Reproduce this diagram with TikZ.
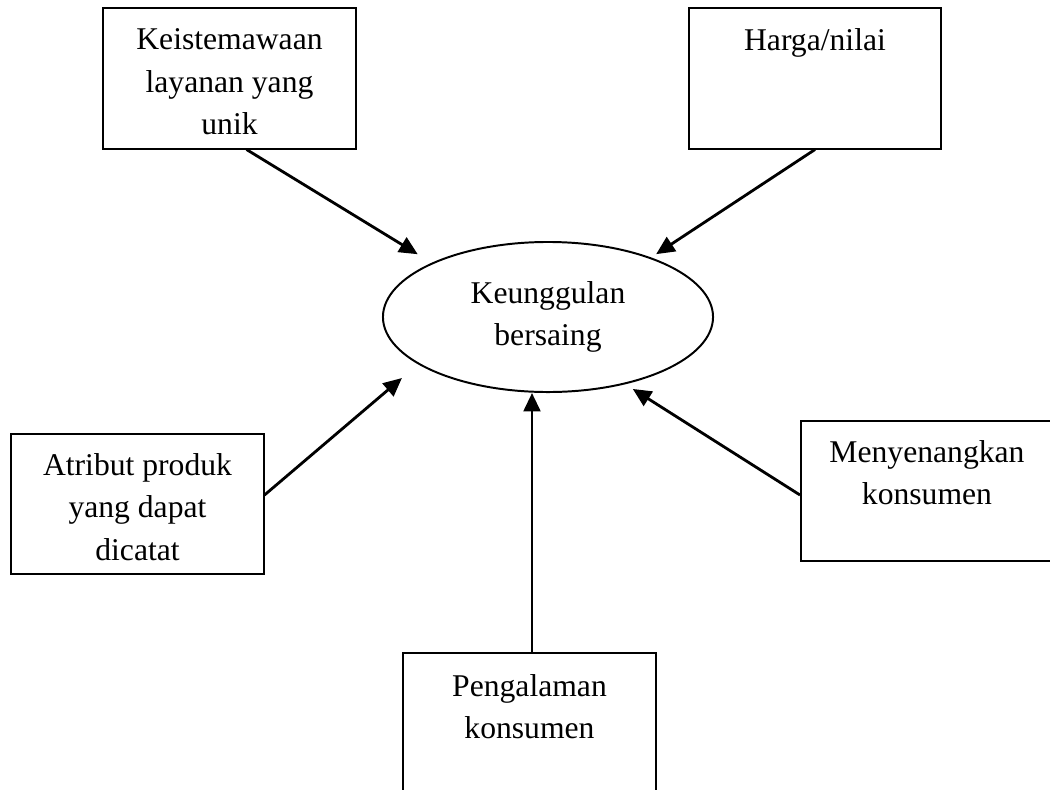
\documentclass[tikz,border=0pt]{standalone}
\usepackage{fontspec}
\setmainfont{Liberation Serif}
\usetikzlibrary{positioning, calc, arrows.meta, shapes.geometric}

\tikzset{
  box/.style = {draw, line width = 1.4pt,
    minimum width = 6.3cm, minimum height = 3.5cm},
  boxtext/.style = {align = center, inner sep = 0pt},
  link/.style = {-{Triangle[length = 0.46cm, width = 0.42cm]},
    line width = 2pt},
}

\begin{document}
\begin{tikzpicture}[x = 0.025cm, y = -0.025cm,
    font = \fontsize{22.5}{30.2}\selectfont]
  \clip (0, 0) rectangle (1050, 789);

  \node[ellipse, draw, line width = 1.4pt, inner sep = 0pt,
    minimum width = 8.25cm, minimum height = 3.75cm, align = center]
    (kb) at (548, 317) {Keunggulan\\bersaing};

  \node[box] (keis) at (229.5, 78.5) {};
  \node[boxtext, below = 0.53cm of keis.north] (keis-t)
    {Keistemawaan\\layanan yang\\unik};

  \node[box] (harga) at (815, 78.5) {};
  \node[boxtext, below = 0.53cm of harga.north] (harga-t) {Harga/nilai};

  \node[box] (atr) at (137.5, 504) {};
  \node[boxtext, below = 0.5cm of atr.north] (atr-t)
    {Atribut produk\\yang dapat\\dicatat};

  \node[box] (men) at (927, 491) {};
  \node[boxtext, below = 0.5cm of men.north] (men-t)
    {Menyenangkan\\konsumen};

  \node[box] (pen) at (529.5, 723) {};
  \node[boxtext, below = 0.55cm of pen.north] (pen-t)
    {Pengalaman\\konsumen};

  \draw[link, shorten >= 0.41cm] ($(keis.south) + (17, 0)$) -- (kb.155);
  \draw[link, shorten >= 0.15cm] (harga.south) -- (kb.30);
  \draw[link, shorten >= 0.53cm] ($(atr.east) + (0, -9)$) -- (kb.200);
  \draw[link] ($(pen.north) + (2.5, 0)$) -- ($(pen.north |- kb.south) + (2.5, 0)$);
  \draw[link, shorten >= 0.22cm] ($(men.west) + (0, 4)$) -- (kb.319);
\end{tikzpicture}
\end{document}
